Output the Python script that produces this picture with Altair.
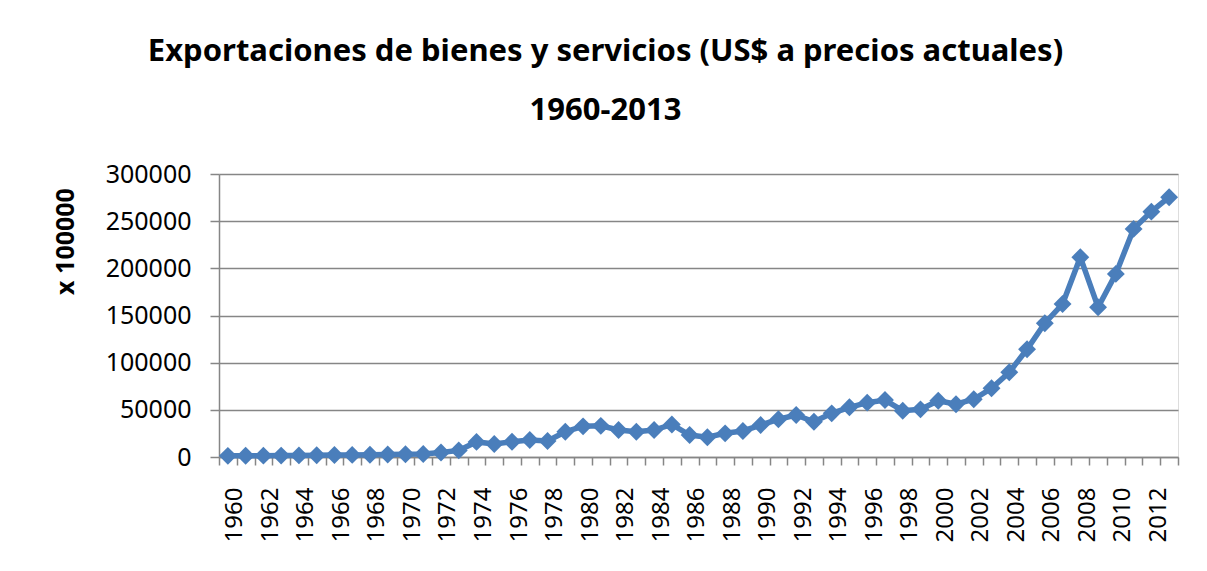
import altair as alt
import pandas as pd

years = list(range(1960, 2014))
exports = [
    1200, 1300, 1400, 1500, 1700, 1900, 2100, 2200, 2400, 2600,
    2900, 3200, 4800, 7000, 16000, 13800, 16200, 18000, 17000,
    26800, 32500, 33000, 28600, 26800, 28600, 34500, 23300, 20900, 25100,
    27600, 33900, 40000, 44500, 37400, 46300, 52700, 57600,
    60400, 49100, 50500, 59700, 55900, 61200, 72900, 89800, 114200,
    141800, 162200, 211800, 158700, 194100, 241800, 260100, 275400,
]
y_ticks = [0, 50000, 100000, 150000, 200000, 250000, 300000]
title_lines = ["Exportaciones de bienes y servicios (US$ a precios actuales)", "1960-2013"]
y_title = "x 100000"

df = pd.DataFrame({"year": years, "value": exports})

FONT = "Noto Sans"
BLUE = "#4a7ebb"
GRAY = "#868686"

base = alt.Chart(df).encode(
    x=alt.X(
        "year:O",
        scale=alt.Scale(type="band", paddingInner=0, paddingOuter=0),
        axis=alt.Axis(
            title=None,
            grid=False,
            tickBand="extent",
            labelExpr="datum.value % 2 == 0 ? datum.label : ''",
            labelAngle=-90,
            labelAlign="right",
            labelBaseline="middle",
            labelFont=FONT,
            labelFontSize=24,
            labelColor="#000000",
            labelPadding=22,
            labelOffset=7,
            labelOverlap=False,
            labelBound=False,
            tickSize=8,
            tickColor=GRAY,
            tickWidth=1.5,
            domainColor=GRAY,
            domainWidth=1.5,
        ),
    ),
    y=alt.Y(
        "value:Q",
        scale=alt.Scale(domain=[0, 300000], nice=False),
        axis=alt.Axis(
            values=y_ticks,
            format="d",
            grid=True,
            gridColor=GRAY,
            gridWidth=1.5,
            tickSize=9,
            tickColor=GRAY,
            tickWidth=1.5,
            domainColor=GRAY,
            domainWidth=1.5,
            labelFont=FONT,
            labelFontSize=25,
            labelColor="#000000",
            labelPadding=19,
            title=y_title,
            titleFont=FONT,
            titleFontSize=25,
            titleFontWeight="bold",
            titleColor="#000000",
            titleAngle=-90,
            titleX=-154,
            titleY=67,
            titleAlign="center",
            titleBaseline="middle",
        ),
    ),
)

line = base.mark_line(color=BLUE, strokeWidth=5.5)
points = base.mark_point(shape="diamond", filled=True, size=320, color=BLUE, opacity=1)

chart = alt.layer(line, points).properties(
    width=959,
    height=283,
    title=alt.TitleParams(
        text=title_lines,
        font=FONT,
        fontSize=31,
        fontWeight="bold",
        color="#000000",
        anchor="middle",
        frame="group",
        dx=-93,
        lineHeight=58.7,
        offset=35,
    ),
    autosize=alt.AutoSizeParams(type="none"),
    padding={"left": 211, "top": 166, "right": 21, "bottom": 106},
).configure_view(stroke=None).configure(background="#ffffff")

chart.save("out.html", embed_options={"renderer": "svg", "actions": False})
